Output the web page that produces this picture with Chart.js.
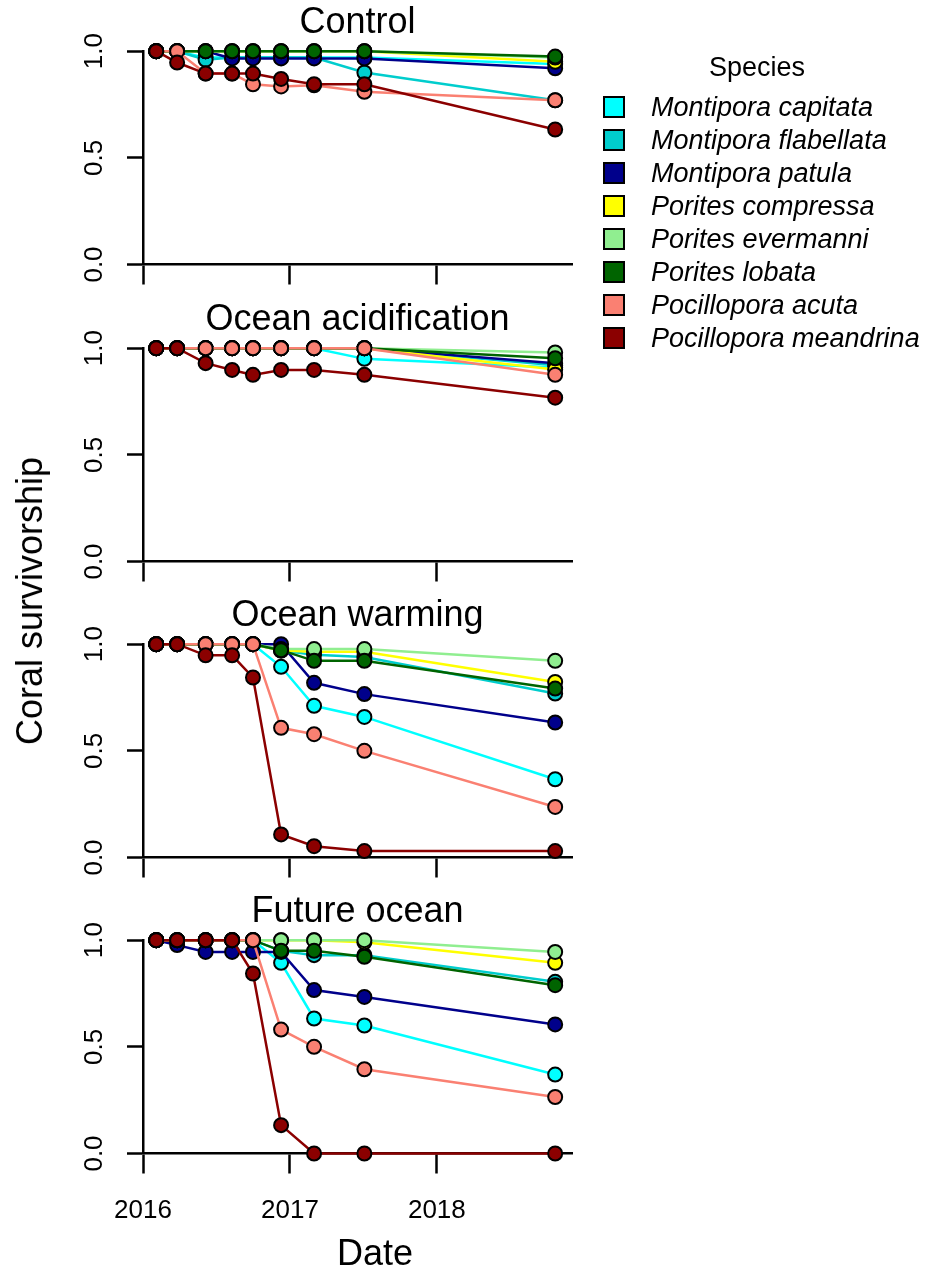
<!DOCTYPE html>
<html>
<head>
<meta charset="utf-8">
<script src="https://cdn.jsdelivr.net/npm/chart.js@4.4.1/dist/chart.umd.min.js"></script>
<style>
  body { margin: 0; background: #fff; }
  #page { position: relative; width: 926px; height: 1278px; overflow: hidden; font-family: "Liberation Sans", Arial, sans-serif; color: #000; }
  #page canvas { position: absolute; left: 0; }
  .label { position: absolute; white-space: nowrap; font-size: 36px; }
  #ytitle { left: 30px; top: 601px; transform: translate(-50%, -50%) rotate(-90deg); }
  #xtitle { left: 375px; top: 1253px; transform: translate(-50%, -50%); }
  #legend-title { position: absolute; left: 757px; top: 67px; transform: translate(-50%, -50%); font-size: 27px; white-space: nowrap; }
  .key { position: absolute; left: 603px; width: 22px; height: 22px; border: 2px solid #000; box-sizing: border-box; }
  .key-text { position: absolute; left: 651px; font-size: 27px; font-style: italic; white-space: nowrap; transform: translateY(-50%); }
</style>
</head>
<body>
<div id="page">
  <canvas id="panel0" width="926" height="296" style="top:0px"></canvas>
  <canvas id="panel1" width="926" height="296" style="top:297px"></canvas>
  <canvas id="panel2" width="926" height="296" style="top:593px"></canvas>
  <canvas id="panel3" width="926" height="389" style="top:889px"></canvas>
  <div class="label" id="ytitle">Coral survivorship</div>
  <div class="label" id="xtitle">Date</div>
  <div id="legend-title">Species</div>
  <div id="legend"></div>
</div>
<script>
// sampling dates (same for every treatment)
const sampleDates = ['2016-02-03', '2016-03-26', '2016-06-05', '2016-08-10', '2016-10-01',
                     '2016-12-10', '2017-03-02', '2017-07-05', '2018-10-22'];

const species = ['Montipora capitata', 'Montipora flabellata', 'Montipora patula', 'Porites compressa',
                 'Porites evermanni', 'Porites lobata', 'Pocillopora acuta', 'Pocillopora meandrina'];
const speciesColors = ['#00FFFF', '#00CDCD', '#00008B', '#FFFF00', '#90EE90', '#006400', '#FA8072', '#8B0000'];

const treatments = ['Control', 'Ocean acidification', 'Ocean warming', 'Future ocean'];
const yearTicks = [2016, 2017, 2018];

// survivorship, one row per species (same order as species[])
const controlSurv = [
  [1, 1, 0.97, 0.97, 0.97, 0.97, 0.97, 0.97, 0.94],
  [1, 1, 0.96, 0.97, 0.97, 0.97, 0.97, 0.90, 0.77],
  [1, 1, 1, 0.966, 0.966, 0.966, 0.966, 0.966, 0.92],
  [1, 1, 1, 1, 1, 1, 1, 1, 0.95],
  [1, 1, 1, 1, 1, 1, 1, 1, 0.97],
  [1, 1, 1, 1, 1, 1, 1, 1, 0.975],
  [1, 1, 0.895, 0.895, 0.845, 0.835, 0.84, 0.81, 0.77],
  [1, 0.947, 0.895, 0.895, 0.895, 0.87, 0.845, 0.845, 0.633]
];
const acidSurv = [
  [1, 1, 1, 1, 1, 1, 1, 0.95, 0.91],
  [1, 1, 1, 1, 1, 1, 1, 1, 0.92],
  [1, 1, 1, 1, 1, 1, 1, 1, 0.93],
  [1, 1, 1, 1, 1, 1, 1, 1, 0.90],
  [1, 1, 1, 1, 1, 1, 1, 1, 0.98],
  [1, 1, 1, 1, 1, 1, 1, 1, 0.953],
  [1, 1, 1, 1, 1, 1, 1, 1, 0.875],
  [1, 1, 0.93, 0.898, 0.875, 0.898, 0.898, 0.875, 0.768]
];
const warmSurv = [
  [1, 1, 1, 1, 1, 0.894, 0.711, 0.659, 0.367],
  [1, 1, 1, 1, 1, 0.97, 0.95, 0.94, 0.769],
  [1, 1, 1, 1, 1, 1, 0.819, 0.766, 0.633],
  [1, 1, 1, 1, 1, 0.97, 0.965, 0.965, 0.823],
  [1, 1, 1, 1, 1, 0.977, 0.977, 0.977, 0.922],
  [1, 1, 1, 1, 1, 0.972, 0.922, 0.922, 0.792],
  [1, 1, 1, 1, 1, 0.608, 0.578, 0.50, 0.237],
  [1, 1, 0.948, 0.948, 0.844, 0.108, 0.053, 0.03, 0.03]
];
const futureSurv = [
  [1, 1, 1, 1, 1, 0.894, 0.633, 0.60, 0.37],
  [1, 1, 1, 1, 1, 0.95, 0.93, 0.93, 0.805],
  [1, 0.977, 0.945, 0.945, 0.945, 0.945, 0.766, 0.734, 0.605],
  [1, 1, 1, 1, 1, 1, 1, 0.99, 0.894],
  [1, 1, 1, 1, 1, 1, 1, 1, 0.945],
  [1, 1, 1, 1, 1, 0.95, 0.95, 0.922, 0.789],
  [1, 1, 1, 1, 1, 0.581, 0.50, 0.395, 0.265],
  [1, 1, 1, 1, 0.844, 0.133, 0, 0, 0]
];

const FONT = '"Liberation Sans", Arial, sans-serif';

function decimalYear(s) {
  const d = new Date(s + 'T00:00:00Z');
  const y = d.getUTCFullYear();
  const start = Date.UTC(y, 0, 1);
  const end = Date.UTC(y + 1, 0, 1);
  return y + (d.getTime() - start) / (end - start);
}

const xValues = sampleDates.map(decimalYear);

function buildDatasets(values) {
  return species.map((name, i) => ({
    label: name,
    data: values[i].map((v, j) => ({ x: xValues[j], y: v })),
    borderColor: speciesColors[i],
    backgroundColor: speciesColors[i],
    borderWidth: 2.5,
    pointRadius: 7,
    pointBackgroundColor: speciesColors[i],
    pointBorderColor: '#000',
    pointBorderWidth: 2,
    tension: 0,
    clip: false,
    order: species.length - 1 - i // last species drawn on top
  }));
}

function makePanel(canvasId, title, values, isBottom) {
  const canvas = document.getElementById(canvasId);
  const axisHeight = canvas.height - 264.5;
  new Chart(canvas.getContext('2d'), {
    type: 'line',
    data: { datasets: buildDatasets(values) },
    options: {
      responsive: false,
      animation: false,
      events: [],
      layout: { padding: { left: 0, right: 354, top: 0, bottom: 0 } },
      plugins: {
        legend: { display: false },
        tooltip: { enabled: false },
        title: {
          display: true,
          text: title,
          fullSize: false,
          color: '#000',
          font: { family: FONT, size: 36, weight: 'normal' },
          padding: { top: 1, bottom: 7 }
        }
      },
      scales: {
        x: {
          type: 'linear',
          min: 2016,
          max: 2018.92,
          afterFit: s => { s.height = axisHeight; },
          afterBuildTicks: s => { s.ticks = yearTicks.map(v => ({ value: v })); },
          border: { display: true, color: '#000', width: 2.5 },
          grid: { drawOnChartArea: false, drawTicks: true, tickLength: 20, tickWidth: 2.5, tickColor: '#000' },
          ticks: {
            display: isBottom,
            autoSkip: false,
            maxRotation: 0,
            padding: 22,
            color: '#000',
            font: { family: FONT, size: 26 },
            callback: v => String(v)
          }
        },
        y: {
          min: 0,
          max: 1,
          afterFit: s => { s.width = 143; },
          border: { display: true, color: '#000', width: 2.5 },
          grid: { drawOnChartArea: false, drawTicks: true, tickLength: 16, tickWidth: 2.5, tickColor: '#000' },
          ticks: {
            stepSize: 0.5,
            includeBounds: false,
            minRotation: 90,
            maxRotation: 90,
            crossAlign: 'center',
            padding: 14,
            color: '#000',
            font: { family: FONT, size: 26 },
            callback: v => Number(v).toFixed(1)
          }
        }
      }
    }
  });
}

makePanel('panel0', treatments[0], controlSurv, false);
makePanel('panel1', treatments[1], acidSurv, false);
makePanel('panel2', treatments[2], warmSurv, false);
makePanel('panel3', treatments[3], futureSurv, true);

// legend
const legend = document.getElementById('legend');
species.forEach((name, i) => {
  const cy = 106.7 + i * 33.1;
  const key = document.createElement('div');
  key.className = 'key';
  key.style.top = (cy - 11) + 'px';
  key.style.background = speciesColors[i];
  legend.appendChild(key);
  const txt = document.createElement('div');
  txt.className = 'key-text';
  txt.style.top = cy + 'px';
  txt.textContent = name;
  legend.appendChild(txt);
});
</script>
</body>
</html>
